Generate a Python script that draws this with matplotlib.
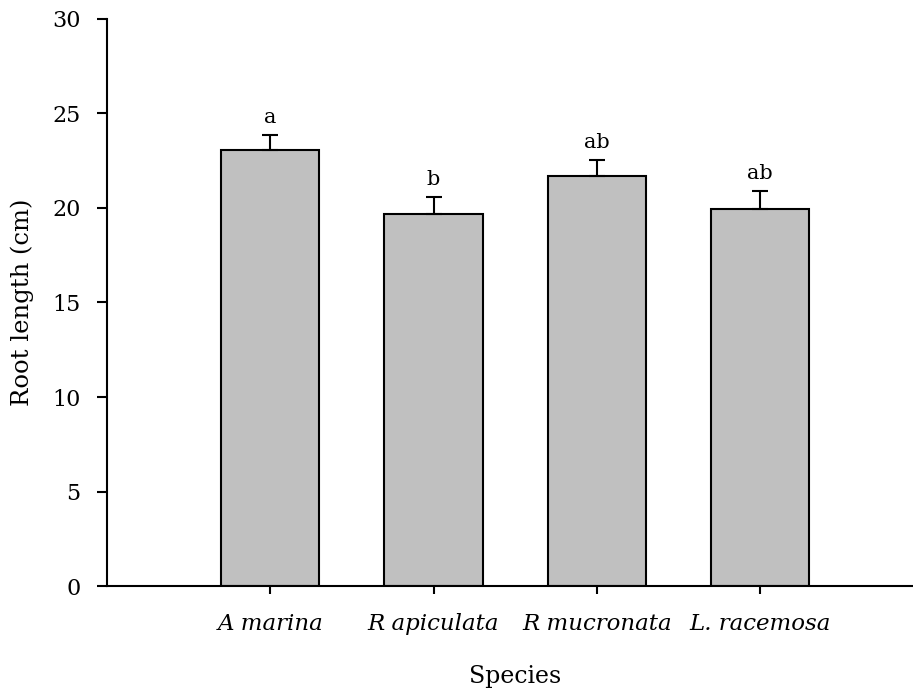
import numpy as np
import matplotlib.pyplot as plt

species = ['A marina', 'R apiculata', 'R mucronata', 'L. racemosa']
root_length = [23.05, 19.7, 21.67, 19.93]
se = [0.8, 0.88, 0.87, 0.96]
letters = ['a', 'b', 'ab', 'ab']

plt.rcParams['font.family'] = ['DejaVu Serif']

fig = plt.figure(figsize=(9.13, 6.93), dpi=100)
ax = fig.add_axes([0.117, 0.154, 0.882, 0.819])

x = np.arange(1, len(species) + 1)
ax.bar(x, root_length, width=0.6, color='#c0c0c0', edgecolor='black', linewidth=1.5)
ax.errorbar(x, root_length, yerr=[np.zeros(len(se)), se], fmt='none',
            ecolor='black', elinewidth=1.5, capsize=6, capthick=1.5)

for xi, v, e, lab in zip(x, root_length, se, letters):
    ax.text(xi, v + e + 0.4, lab, ha='center', va='bottom', fontsize=15)

ax.set_xlim(0, 4.93)
ax.set_ylim(0, 30)
ax.set_yticks(np.arange(0, 31, 5))
ax.set_xticks(x)
ax.set_xticklabels(species, fontstyle='italic', fontsize=16.5)
ax.tick_params(axis='y', labelsize=16, length=7, width=1.5, pad=12)
ax.tick_params(axis='x', length=6, width=1.5, pad=13)

ax.set_ylabel('Root length (cm)', fontsize=17.5)
ax.yaxis.set_label_coords(-0.09, 0.5)
ax.set_xlabel('Species', fontsize=17)
# centre the axis title under the bars rather than the whole axis
ax.xaxis.set_label_coords(2.5 / 4.93, -0.138)

for s in ['top', 'right']:
    ax.spines[s].set_visible(False)
for s in ['left', 'bottom']:
    ax.spines[s].set_linewidth(1.5)

fig.savefig('out.png', dpi=100)
